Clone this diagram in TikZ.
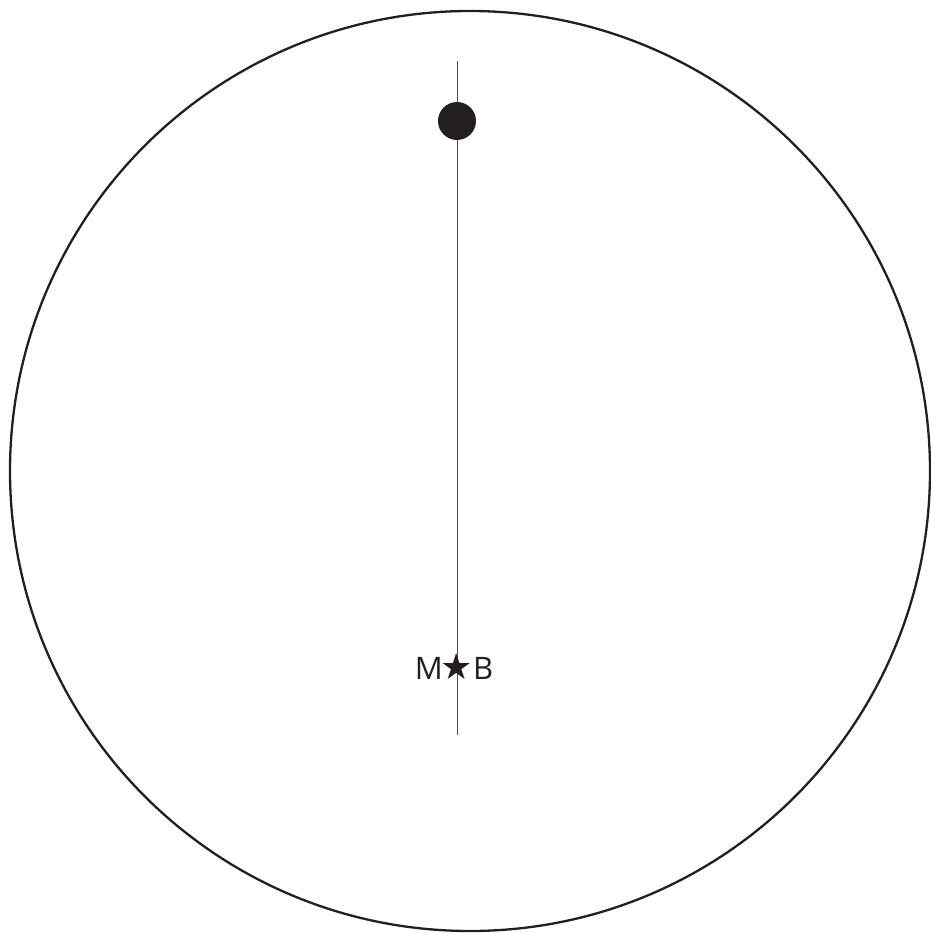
\documentclass[tikz,border=0pt]{standalone}
\usepackage{fontspec}
\setmainfont{Open Sans}
\newfontfamily\symbfont{DejaVu Sans}
\usepackage{tikz}
\usetikzlibrary{positioning}
\definecolor{inkblack}{HTML}{231F20}
\tikzset{
  orbit/.style={draw=inkblack,line width=2.3pt},
  axisline/.style={draw=inkblack!80,line width=0.9pt},
  body/.style={circle,fill=inkblack,inner sep=0pt,minimum size=38pt},
  marklabel/.style={inner sep=0pt,text=inkblack,font=\fontsize{31}{36}\selectfont}
}

\begin{document}
\begin{tikzpicture}[x=1pt,y=-1pt]
\useasboundingbox (0,0) rectangle (930,933);
% orbit
\draw[orbit] (470,471) circle[radius=460];
% line through the star and the body
\coordinate (top) at (457,61);
\coordinate (bottom) at (457,735);
\draw[axisline] (top) -- (bottom);
\node[body] (planet) at (457,121) {};
\node[marklabel,font=\fontsize{36}{40}\symbfont] (star) at (457,667) {★};
\node[marklabel,anchor=east] (mlabel) at (443,668) {M};
\node[marklabel,anchor=west] (blabel) at (473,668) {B};
\end{tikzpicture}
\end{document}
